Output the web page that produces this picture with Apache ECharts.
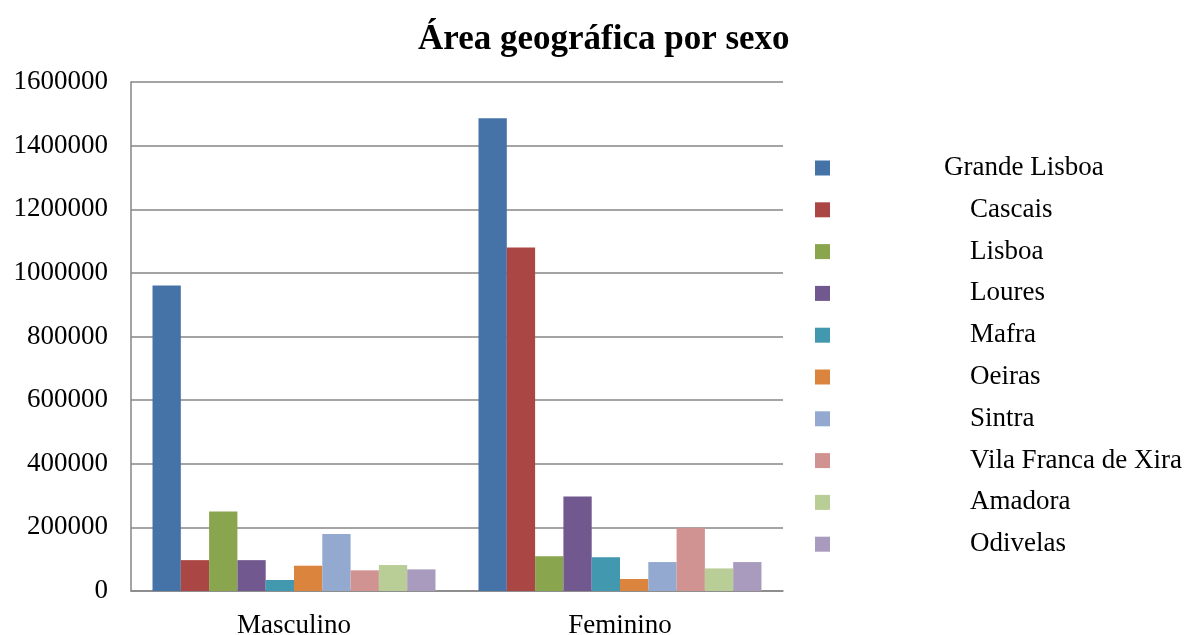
<!DOCTYPE html>
<html>
<head>
<meta charset="utf-8">
<script src="https://cdn.jsdelivr.net/npm/echarts@6/dist/echarts.min.js"></script>
<style>html,body{margin:0;padding:0;background:#fff;}#c{width:1187px;height:635px;}</style>
</head>
<body>
<div id="c"></div>
<script>
const categories = ['Masculino', 'Feminino'];
const seriesNames = ['Grande Lisboa', 'Cascais', 'Lisboa', 'Loures', 'Mafra', 'Oeiras', 'Sintra', 'Vila Franca de Xira', 'Amadora', 'Odivelas'];
const grandeLisboa = [960000, 1486000];
const cascais = [97000, 1080000];
const lisboa = [250000, 109000];
const loures = [97000, 297000];
const mafra = [34500, 106000];
const oeiras = [79500, 37700];
const sintra = [179000, 91000];
const vilaFrancaDeXira = [65000, 199000];
const amadora = [81600, 71000];
const odivelas = [68000, 91000];
const seriesValues = [grandeLisboa, cascais, lisboa, loures, mafra, oeiras, sintra, vilaFrancaDeXira, amadora, odivelas];
const colors = ['#4572A7', '#AA4643', '#89A54E', '#71588F', '#4198AF', '#DB843D', '#93A9CF', '#D19392', '#B9CD96', '#A99BBD'];
const yTicks = { min: 0, max: 1600000, interval: 200000 };

const FONT = '"Liberation Serif", "DejaVu Serif", serif';
const chart = echarts.init(document.getElementById('c'), null, { renderer: 'canvas' });
chart.setOption({
  animation: false,
  color: colors,
  title: {
    text: 'Área geográfica por sexo',
    left: 418,
    top: 22,
    padding: 0,
    textStyle: { fontFamily: FONT, fontSize: 35, fontWeight: 'bold', color: '#000' }
  },
  legend: {
    orient: 'vertical',
    left: 810,
    top: 148,
    itemWidth: 15,
    itemHeight: 15,
    itemGap: 11.8,
    icon: 'rect',
    data: seriesNames,
    formatter: function (name) {
      return name === 'Grande Lisboa' ? '{g|' + name + '}' : '{n|' + name + '}';
    },
    textStyle: {
      fontFamily: FONT, fontSize: 27, color: '#000', lineHeight: 30,
      rich: {
        g: { fontFamily: FONT, fontSize: 27, color: '#000', lineHeight: 30, padding: [0, 0, 0, 109] },
        n: { fontFamily: FONT, fontSize: 27, color: '#000', lineHeight: 30, padding: [0, 0, 0, 135] }
      }
    }
  },
  grid: { left: 131, right: 404, top: 82, bottom: 44, containLabel: false, outerBoundsMode: 'none' },
  xAxis: {
    type: 'category',
    data: categories,
    axisLine: { lineStyle: { color: '#868686', width: 1.5 } },
    axisTick: { show: false },
    axisLabel: { fontFamily: FONT, fontSize: 27, color: '#000', margin: 21 }
  },
  yAxis: {
    type: 'value',
    min: yTicks.min, max: yTicks.max, interval: yTicks.interval,
    axisLine: { show: true, lineStyle: { color: '#868686', width: 1.5 } },
    axisTick: { show: false },
    splitLine: { lineStyle: { color: '#868686', width: 1.5 } },
    axisLabel: { fontFamily: FONT, fontSize: 27, color: '#000', margin: 23, formatter: function (v) { return String(v); } }
  },
  series: seriesNames.map((n, i) => ({
    name: n,
    type: 'bar',
    data: seriesValues[i],
    barGap: '0%',
    barCategoryGap: '13.2%',
    itemStyle: { color: colors[i] }
  }))
});
</script>
</body>
</html>
